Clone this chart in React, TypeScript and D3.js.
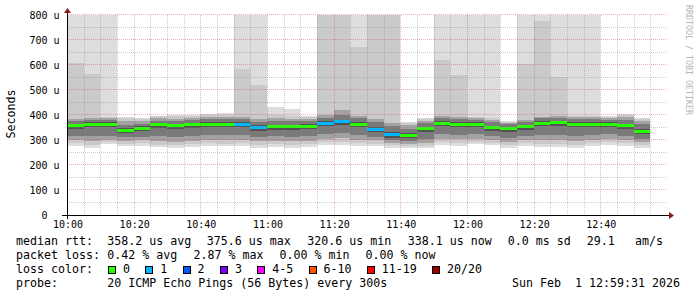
import React from "react";
import * as d3 from "d3";

// ---- data (RTT in microseconds, one entry per 5-minute step starting 10:00) ----
const medianRtt = [357, 364, 364, 340, 347, 361, 357, 361, 364, 364, 363, 350, 353, 353, 356, 367, 373, 363, 344, 322, 320, 345, 367, 364, 363, 349, 345, 353, 367, 369, 364, 364, 364, 357, 336];
const lossCount = [0, 0, 0, 0, 0, 0, 0, 0, 0, 0, 1, 1, 0, 0, 0, 1, 1, 0, 1, 1, 0, 0, 0, 0, 0, 0, 0, 0, 0, 0, 0, 0, 0, 0, 0];
const pingMin = [278, 268, 285, 275, 278, 272, 270, 272, 278, 275, 278, 270, 272, 270, 272, 280, 280, 275, 275, 270, 268, 268, 280, 278, 285, 280, 270, 278, 272, 272, 270, 276, 282, 278, 270];
const ping02 = [288, 282, 292, 285, 288, 282, 280, 284, 290, 286, 288, 282, 284, 282, 284, 292, 294, 288, 286, 280, 276, 278, 292, 290, 294, 290, 280, 288, 284, 284, 280, 288, 292, 288, 282];
const ping04 = [300, 296, 302, 298, 300, 296, 294, 298, 302, 300, 300, 296, 298, 296, 298, 304, 308, 302, 300, 290, 286, 290, 306, 304, 306, 302, 292, 300, 300, 300, 296, 300, 304, 300, 294];
const ping06 = [318, 315, 318, 312, 314, 316, 312, 318, 322, 320, 320, 312, 316, 314, 316, 324, 330, 322, 314, 302, 298, 306, 326, 322, 324, 318, 308, 318, 322, 322, 318, 320, 324, 316, 306];
const ping08 = [345, 352, 352, 328, 335, 349, 345, 349, 352, 352, 351, 338, 341, 341, 344, 355, 361, 351, 332, 310, 308, 333, 355, 352, 351, 337, 333, 341, 355, 357, 352, 352, 352, 345, 324];
const ping10 = [353, 360, 360, 336, 343, 357, 353, 357, 360, 360, 359, 346, 349, 349, 352, 363, 369, 359, 340, 318, 316, 341, 363, 360, 359, 345, 341, 349, 363, 365, 360, 360, 360, 353, 332];
const ping11 = [361, 368, 368, 344, 351, 365, 361, 365, 368, 368, 367, 354, 357, 357, 360, 371, 377, 367, 348, 326, 324, 349, 371, 368, 367, 353, 349, 357, 371, 373, 368, 368, 368, 361, 340];
const ping13 = [366, 373, 373, 349, 356, 370, 366, 370, 373, 373, 372, 359, 362, 362, 365, 376, 382, 372, 353, 331, 329, 354, 376, 373, 372, 358, 354, 362, 376, 378, 373, 373, 373, 366, 345];
const ping15 = [375, 380, 380, 362, 366, 378, 376, 380, 384, 384, 386, 374, 378, 376, 376, 390, 402, 388, 372, 355, 346, 368, 388, 384, 382, 372, 364, 374, 388, 388, 384, 384, 382, 380, 364];
const ping17 = [385, 388, 388, 378, 378, 388, 386, 390, 394, 394, 392, 384, 388, 386, 386, 400, 420, 398, 385, 370, 360, 378, 396, 392, 388, 382, 370, 382, 394, 396, 392, 392, 388, 392, 378];
const ping19 = [610, 563, 392, 388, 385, 395, 395, 398, 400, 402, 585, 520, 400, 398, 392, 900, 900, 673, 900, 900, 368, 385, 620, 560, 392, 388, 374, 604, 777, 551, 398, 398, 392, 400, 386];
const pingMax = [900, 900, 900, 392, 390, 398, 400, 402, 405, 408, 900, 900, 432, 424, 397, 900, 900, 900, 900, 900, 373, 387, 900, 900, 900, 900, 376, 900, 900, 900, 900, 900, 395, 405, 390];

const xTickLabels = ["10:00", "10:20", "10:40", "11:00", "11:20", "11:40", "12:00", "12:20", "12:40"];
const yTickValues = [0, 100, 200, 300, 400, 500, 600, 700, 800];
const yTickLabels = ["0", "100 u", "200 u", "300 u", "400 u", "500 u", "600 u", "700 u", "800 u"];

const lossLabels = ["0", "1", "2", "3", "4-5", "6-10", "11-19", "20/20"];
const lossColors = ["#26ff00", "#00b8ff", "#0059ff", "#7e00ff", "#ff00ff", "#ff5500", "#ff0000", "#a10000"];

const legendRtt = ["median rtt:", "358.2 us avg", "375.6 us max", "320.6 us min", "338.1 us now", "0.0 ms sd", "29.1", "am/s"];
const legendLoss = ["packet loss:", "0.42 % avg", "2.87 % max", "0.00 % min", "0.00 % now"];
const legendProbe = ["probe:", "20 ICMP Echo Pings (56 Bytes) every 300s"];
const legendDate = "Sun Feb\u00a0\u00a01 12:59:31 2026";

const T0 = Date.UTC(2026, 1, 1, 10, 0, 0);
const STEP = 5 * 60 * 1000;

const MONO = "'DejaVu Sans Mono', monospace";

export default function App() {
  const W = 697;
  const H = 297;
  const x = d3.scaleUtc().domain([T0, T0 + 36 * STEP]).range([67, 667]);
  const y = d3.scaleLinear().domain([0, 800]).range([215, 15]).clamp(true);

  const layers: [number[], number[], string][] = [
    [pingMin, pingMax, "#dddddd"],
    [ping02, ping19, "#cacaca"],
    [ping04, ping17, "#a2a2a2"],
    [ping06, ping15, "#7a7a7a"],
    [ping08, ping13, "#525252"],
    [ping10, ping11, "#323232"],
  ];

  const bars = medianRtt.map((_, i) => ({
    x0: x(T0 + i * STEP),
    x1: x(T0 + (i + 1) * STEP),
  }));

  const lossIndex = (n: number) => (n <= 3 ? n : n <= 5 ? 4 : n <= 10 ? 5 : n <= 19 ? 6 : 7);

  const minorV: number[] = [];
  const majorV: number[] = [];
  for (let i = 1; i < 36; i++) {
    const t = T0 + i * STEP;
    if (i % 4 === 0) majorV.push(t);
    else minorV.push(t);
  }
  const minorH = yTickValues.slice(0, -1).map((v) => v + 50);
  const majorH = yTickValues.slice(1);
  const xTickTimes = xTickLabels.map((_, i) => T0 + i * 4 * STEP);

  const px = (v: number) => Math.round(v) + 0.5;

  const rttX = [16, 107.3, 206.7, 307.3, 407.7, 507.8, 586.8, 635];
  const lossX = [16, 107.3, 193.4, 279.5, 365.6];
  const lossItemX: number[] = [];
  {
    let cx = 108;
    lossLabels.forEach((l) => {
      lossItemX.push(cx);
      cx = cx + 15 + l.length * 7 + 15.3;
    });
  }

  return (
    <svg
      width={W}
      height={H}
      viewBox={`0 0 ${W} ${H}`}
      style={{ position: "absolute", left: 0, top: 0, display: "block", background: "#ffffff" }}
      fontFamily={MONO}
    >
      <rect x={0} y={0} width={W} height={H} fill="#ffffff" />
      <g shapeRendering="crispEdges">
        {layers.map(([lo, hi, color], li) =>
          bars.map((b, i) => {
            const yt = y(hi[i]);
            const yb = y(lo[i]);
            return (
              <rect key={`s${li}-${i}`} x={b.x0} y={yt} width={b.x1 - b.x0} height={Math.max(0, yb - yt)} fill={color} />
            );
          })
        )}
        {bars.map((b, i) => (
          <rect
            key={`m${i}`}
            x={b.x0}
            y={y(medianRtt[i]) - 1.5}
            width={b.x1 - b.x0}
            height={3}
            fill={lossColors[lossIndex(lossCount[i])]}
          />
        ))}
      </g>
      <g strokeWidth={1} strokeDasharray="1,1" fill="none">
        {minorH.map((v) => (
          <line key={`mh${v}`} x1={67} x2={667} y1={px(y(v)) - 1} y2={px(y(v)) - 1} stroke="rgba(140,140,140,0.45)" />
        ))}
        {minorV.map((t) => (
          <line key={`mv${t}`} x1={px(x(t))} x2={px(x(t))} y1={15} y2={215} stroke="rgba(140,140,140,0.45)" />
        ))}
        {majorH.map((v) => (
          <line key={`Mh${v}`} x1={67} x2={667} y1={px(y(v)) - 1} y2={px(y(v)) - 1} stroke="rgba(210,60,60,0.4)" />
        ))}
        {majorV.map((t) => (
          <line key={`Mv${t}`} x1={px(x(t))} x2={px(x(t))} y1={15} y2={218} stroke="rgba(210,60,60,0.4)" />
        ))}
      </g>
      <g shapeRendering="crispEdges">
        <line x1={62} x2={670} y1={215.5} y2={215.5} stroke="#000000" />
        <line x1={67.5} x2={67.5} y1={219} y2={12} stroke="#000000" />
      </g>
      <path d="M669,212 L674,215.5 L669,219 Z" fill="#8a1a1a" />
      <path d="M64,13 L67.5,8 L71,13 Z" fill="#8a1a1a" />
      <g fontSize={10} fill="#000000" textAnchor="middle">
        {yTickValues.map((v, i) => (
          <text key={`yl${v}`} x={44.6} y={y(v)} dy="0.36em">
            {yTickLabels[i]}
          </text>
        ))}
      </g>
      <g fontSize={10} fill="#000000" textAnchor="middle">
        {xTickTimes.map((t, i) => (
          <text key={`xl${i}`} x={x(t) + 1} y={228}>
            {xTickLabels[i]}
          </text>
        ))}
      </g>
      <text x={15} y={114} fontSize={11.63} textAnchor="middle" transform="rotate(-90 15 114)">
        Seconds
      </text>
      <text x={685.5} y={60} fontSize={8.3} fill="#b4b4b4" textAnchor="middle" transform="rotate(90 685.5 60)">
        RRDTOOL / TOBI OETIKER
      </text>
      <g fontSize={11.63} fill="#000000">
        {legendRtt.map((s, i) => (
          <text key={`lr${i}`} x={rttX[i]} y={245.3}>
            {s}
          </text>
        ))}
        {legendLoss.map((s, i) => (
          <text key={`ll${i}`} x={lossX[i]} y={259.3}>
            {s}
          </text>
        ))}
        <text x={16} y={273.3}>loss color:</text>
        {lossLabels.map((l, i) => (
          <g key={`lc${i}`}>
            <rect x={lossItemX[i] + 0.5} y={266} width={7} height={7} fill={lossColors[i]} stroke="#000000" strokeWidth={1} shapeRendering="crispEdges" />
            <text x={lossItemX[i] + 15} y={273.3}>
              {l}
            </text>
          </g>
        ))}
        {legendProbe.map((s, i) => (
          <text key={`lp${i}`} x={i === 0 ? 16 : 107.3} y={287.3}>
            {s}
          </text>
        ))}
        <text x={680} y={287.3} textAnchor="end">
          {legendDate}
        </text>
      </g>
    </svg>
  );
}
